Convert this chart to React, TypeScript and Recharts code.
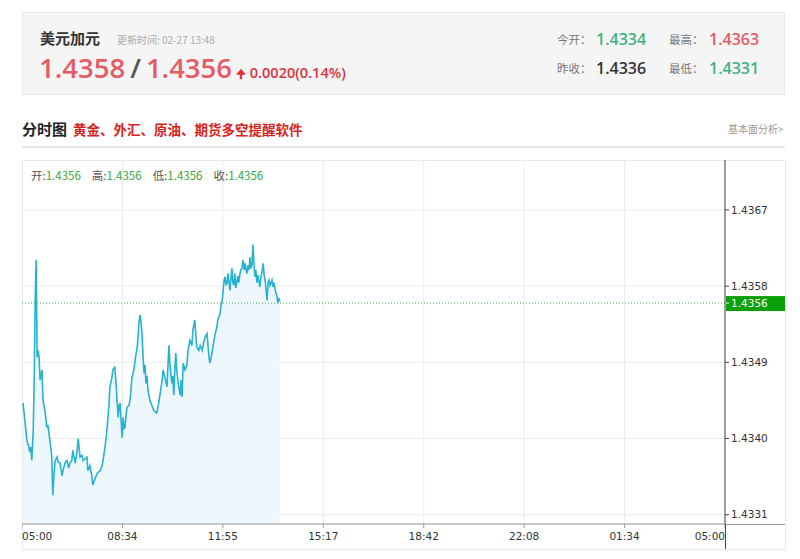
import {
  Area,
  CartesianGrid,
  ComposedChart,
  ReferenceLine,
  XAxis,
  YAxis,
} from "recharts";

// minutes after 05:00
const minutes = [
  2, 6, 10, 14, 16, 18, 20, 23, 25, 27, 29, 31, 33, 35, 37, 39, 41, 43, 47, 51,
  53, 57, 61, 63, 66, 68, 72, 74, 78, 82, 84, 88, 92, 96, 98, 102, 104, 109, 113,
  115, 119, 123, 125, 129, 133, 135, 139, 143, 145, 150, 154, 160, 164, 166, 170,
  174, 178, 180, 184, 186, 190, 193, 195, 197, 199, 201, 203, 205, 207, 209, 211,
  213, 215, 219, 221, 223, 225, 229, 231, 233, 236, 238, 240, 242, 244, 246, 248,
  250, 252, 254, 256, 258, 260, 262, 266, 270, 276, 279, 283, 287, 289, 293, 297,
  299, 301, 303, 307, 309, 311, 313, 315, 317, 320, 324, 326, 328, 330, 334, 338,
  340, 344, 348, 350, 354, 356, 358, 362, 365, 369, 373, 377, 379, 381, 383, 385,
  389, 391, 395, 399, 401, 406, 408, 410, 412, 414, 416, 418, 420, 422, 424, 426,
  428, 430, 432, 434, 436, 438, 440, 442, 444, 446, 448, 451, 453, 455, 457, 459,
  461, 463, 465, 467, 469, 471, 473, 475, 477, 479, 481, 483, 485, 487, 489, 492,
  494, 496, 498, 500, 502, 504, 506, 508, 510, 512, 514, 516, 518, 520, 522, 524,
  526, 528,
];

const prices = [
  1.43442, 1.43421, 1.43398, 1.4339, 1.43384, 1.4339, 1.43374, 1.4341, 1.43469,
  1.43563, 1.43611, 1.43496, 1.43504, 1.43496, 1.43469, 1.43475, 1.43481,
  1.43445, 1.43433, 1.43413, 1.43416, 1.43398, 1.43378, 1.43333, 1.43362,
  1.43374, 1.43378, 1.43372, 1.43371, 1.43356, 1.43362, 1.43371, 1.43374,
  1.43365, 1.43371, 1.43374, 1.43386, 1.43371, 1.43386, 1.434, 1.43378, 1.4338,
  1.43374, 1.43376, 1.43378, 1.43362, 1.43368, 1.43356, 1.43345, 1.43353,
  1.43359, 1.43362, 1.43368, 1.43374, 1.4339, 1.4341, 1.43439, 1.43461, 1.43471,
  1.43481, 1.43484, 1.43463, 1.43442, 1.43425, 1.43439, 1.43442, 1.43421,
  1.43401, 1.43425, 1.43412, 1.43413, 1.43427, 1.43437, 1.43439, 1.43445,
  1.43455, 1.43472, 1.43481, 1.43489, 1.43498, 1.43508, 1.43522, 1.4354,
  1.43546, 1.43537, 1.43522, 1.43496, 1.43477, 1.43487, 1.43465, 1.43474,
  1.43457, 1.43451, 1.43445, 1.43439, 1.43433, 1.4343, 1.43439, 1.43453,
  1.43469, 1.43481, 1.43471, 1.43461, 1.43487, 1.4351, 1.43487, 1.43465,
  1.43474, 1.43451, 1.43481, 1.43501, 1.43481, 1.43465, 1.43451, 1.43469,
  1.43449, 1.43489, 1.43481, 1.43487, 1.43504, 1.43516, 1.4351, 1.43528,
  1.4354, 1.43522, 1.43508, 1.43504, 1.4351, 1.43504, 1.43516, 1.43522,
  1.43524, 1.4351, 1.43496, 1.43489, 1.43501, 1.43508, 1.43522, 1.43531,
  1.4354, 1.43548, 1.43558, 1.43563, 1.43575, 1.43587, 1.43591, 1.43581,
  1.43584, 1.43595, 1.43584, 1.43575, 1.43589, 1.43601, 1.43584, 1.43581,
  1.43595, 1.43578, 1.43584, 1.43592, 1.43584, 1.43593, 1.43599, 1.43602,
  1.43611, 1.43599, 1.43607, 1.43599, 1.43595, 1.43605, 1.43599, 1.43614,
  1.43601, 1.43605, 1.43629, 1.43608, 1.43591, 1.43599, 1.43584, 1.43593,
  1.43587, 1.43579, 1.43589, 1.43599, 1.43607, 1.43593, 1.43587, 1.43575,
  1.43563, 1.43584, 1.43587, 1.43581, 1.43584, 1.43587, 1.43579, 1.43584,
  1.43578, 1.43572, 1.43569, 1.4356, 1.43566, 1.43562,
];

const timeLabels = ["05:00", "08:34", "11:55", "15:17", "18:42", "22:08", "01:34", "05:00"];
const priceTicks = [1.4331, 1.434, 1.4349, 1.4358, 1.4367];
const priceDomain = [1.43299, 1.43729];
const lastPrice = 1.4356;

const step = 1440 / (timeLabels.length - 1);
const timeTicks = timeLabels.map((_, i) => i * step);
const data = minutes.map((t, i) => ({ t, v: prices[i] }));

const cjk = "'Noto Sans CJK SC', 'Noto Sans', sans-serif";
const num = "'Open Sans', 'Noto Sans CJK SC', sans-serif";
const axisFont = "'DejaVu Sans', Verdana, sans-serif";

function TimeTick(props: any) {
  const { x, y, payload } = props;
  const i = Math.round(payload.value / step);
  const anchor = i === 0 ? "start" : i === timeLabels.length - 1 ? "end" : "middle";
  return (
    <text x={x} y={y + 10} textAnchor={anchor} fontSize={10.5} fill="#333" fontFamily={axisFont}>
      {timeLabels[i]}
    </text>
  );
}

function PriceTag(props: any) {
  const { viewBox } = props;
  const x = viewBox.x + viewBox.width;
  const y = viewBox.y;
  return (
    <g>
      <rect x={x + 1} y={y - 7} width={59} height={15} fill="#0aa00a" />
      <line x1={x} x2={x + 4} y1={y} y2={y} stroke="#fff" />
      <text x={x + 6} y={y + 4} fontSize={10.5} fill="#fff" fontFamily={axisFont}>
        {lastPrice.toFixed(4)}
      </text>
    </g>
  );
}

export default function App() {
  return (
    <div style={{ position: "absolute", left: 0, top: 0, width: 800, height: 559, background: "#fff", fontFamily: cjk }}>
      {/* quote header */}
      <div style={{ position: "absolute", left: 22, top: 12, width: 761, height: 81, background: "#f5f5f5", border: "1px solid #e8e8e8" }} />
      <div style={{ position: "absolute", left: 40, top: 27, fontSize: 15, fontWeight: 700, color: "#333" }}>美元加元</div>
      <div style={{ position: "absolute", left: 117, top: 32, fontSize: 10, color: "#aaa" }}>更新时间: 02-27 13:48</div>
      <div style={{ position: "absolute", left: 39, top: 49, fontFamily: num, fontSize: 27.5, fontWeight: 600, color: "#e35c66", whiteSpace: "nowrap" }}>
        1.4358<span style={{ color: "#555", margin: "0 5px" }}>/</span>1.4356
        <span style={{ fontSize: 14.5, marginLeft: 4, color: "#e0323c" }}>
          <span style={{ fontSize: 12 }}>🠉</span> 0.0020(0.14%)
        </span>
      </div>
      <div style={{ position: "absolute", left: 557, top: 31, fontSize: 11.5, color: "#777" }}>今开：</div>
      <div style={{ position: "absolute", left: 596, top: 28, fontFamily: num, fontSize: 16, fontWeight: 600, color: "#43b083" }}>1.4334</div>
      <div style={{ position: "absolute", left: 669, top: 31, fontSize: 11.5, color: "#777" }}>最高：</div>
      <div style={{ position: "absolute", left: 709, top: 28, fontFamily: num, fontSize: 16, fontWeight: 600, color: "#e35c66" }}>1.4363</div>
      <div style={{ position: "absolute", left: 557, top: 60, fontSize: 11.5, color: "#777" }}>昨收：</div>
      <div style={{ position: "absolute", left: 596, top: 57, fontFamily: num, fontSize: 16, fontWeight: 600, color: "#333" }}>1.4336</div>
      <div style={{ position: "absolute", left: 669, top: 60, fontSize: 11.5, color: "#777" }}>最低：</div>
      <div style={{ position: "absolute", left: 709, top: 57, fontFamily: num, fontSize: 16, fontWeight: 600, color: "#43b083" }}>1.4331</div>

      {/* title row */}
      <div style={{ position: "absolute", left: 22, top: 118, fontSize: 15, fontWeight: 700, color: "#222" }}>分时图</div>
      <div style={{ position: "absolute", left: 73, top: 119, fontSize: 13.5, fontWeight: 700, color: "#d6241c", whiteSpace: "nowrap" }}>
        黄金、外汇、原油、期货多空提醒软件
      </div>
      <div style={{ position: "absolute", left: 728, top: 121, fontSize: 10, color: "#999" }}>基本面分析&gt;</div>
      <div style={{ position: "absolute", left: 22, top: 146, width: 763, height: 2, background: "#e6e6e6" }} />

      {/* chart panel */}
      <div style={{ position: "absolute", left: 22, top: 160, width: 762, height: 388, border: "1px solid #e8e8e8" }} />
      <div style={{ position: "absolute", left: 22, top: 160 }}>
        <ComposedChart width={763} height={389} data={data} margin={{ top: 0, right: 0, bottom: 0, left: 0 }}>
          <CartesianGrid stroke="#ececec" />
          <XAxis
            type="number"
            dataKey="t"
            domain={[0, 1440]}
            ticks={timeTicks}
            interval={0}
            height={25}
            tick={<TimeTick />}
            tickSize={4}
            axisLine={{ stroke: "#999" }}
            tickLine={{ stroke: "#999" }}
          />
          <YAxis
            orientation="right"
            type="number"
            domain={priceDomain}
            allowDataOverflow
            ticks={priceTicks}
            width={60}
            tickSize={4}
            tickMargin={2}
            axisLine={{ stroke: "#444" }}
            tickLine={{ stroke: "#444" }}
            tick={{ fontSize: 10.5, fill: "#333", fontFamily: axisFont }}
            tickFormatter={(v: number) => v.toFixed(4)}
          />
          <Area
            type="linear"
            dataKey="v"
            baseValue={priceDomain[0]}
            stroke="#27b3d0"
            strokeWidth={1.6}
            fill="#eef8fc"
            fillOpacity={1}
            dot={false}
            activeDot={false}
            isAnimationActive={false}
          />
          <ReferenceLine y={lastPrice} stroke="#4caf50" strokeDasharray="1 2" label={<PriceTag />} />
        </ComposedChart>
      </div>
      {/* axis extensions */}
      <div style={{ position: "absolute", left: 725, top: 524, width: 60, height: 1, background: "#999" }} />
      <div style={{ position: "absolute", left: 725, top: 524, width: 1, height: 25, background: "#444" }} />

      {/* OHLC readout */}
      <div style={{ position: "absolute", left: 31, top: 167, fontSize: 11.5, color: "#555", whiteSpace: "nowrap" }}>
        开:<span style={{ color: "#3ca53c" }}>1.4356</span>
        <span style={{ marginLeft: 11 }}>高:</span><span style={{ color: "#3ca53c" }}>1.4356</span>
        <span style={{ marginLeft: 11 }}>低:</span><span style={{ color: "#3ca53c" }}>1.4356</span>
        <span style={{ marginLeft: 11 }}>收:</span><span style={{ color: "#3ca53c" }}>1.4356</span>
      </div>
    </div>
  );
}
